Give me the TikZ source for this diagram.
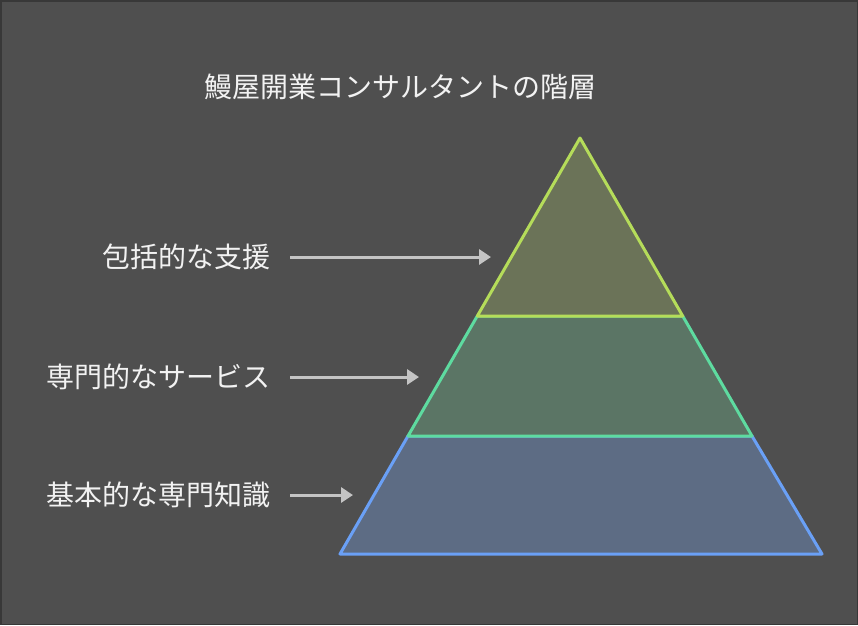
\documentclass[tikz,border=0pt]{standalone}
\usepackage{fontspec}
\newfontfamily\cjk{Noto Sans CJK JP}
\usetikzlibrary{arrows.meta}
\definecolor{bg}{HTML}{4F4F4F}
\definecolor{edge}{HTML}{383838}
\definecolor{txt}{HTML}{F2F2F2}
\definecolor{arr}{HTML}{C4C4C4}
\definecolor{topfill}{HTML}{6B7358}
\definecolor{topline}{HTML}{B5DC5A}
\definecolor{midfill}{HTML}{5B7565}
\definecolor{midline}{HTML}{5EDBA0}
\definecolor{botfill}{HTML}{5D6C84}
\definecolor{botline}{HTML}{6AA0F6}
\tikzset{
  lbl/.style={text=txt,font=\cjk\fontsize{28}{32}\selectfont,anchor=east,inner sep=0pt},
  ttl/.style={text=txt,font=\cjk\fontsize{28}{32}\selectfont,inner sep=0pt},
  pointer/.style={draw=arr,line width=3pt,-{Triangle[length=12pt,width=15pt]}},
  layer/.style={line width=3pt,line join=round}
}
\begin{document}
\begin{tikzpicture}[x=1pt,y=-1pt]
\useasboundingbox (0,0) rectangle (858,625);
\fill[bg] (0,0) rectangle (858,625);
\draw[edge,line width=1.5pt] (0.75,0.75) rectangle (857.25,624.25);
% geometry
\coordinate (apex) at (580,138);
\coordinate (l1) at (477.3,316);
\coordinate (r1) at (682.7,316);
\coordinate (l2) at (408,436);
\coordinate (r2) at (752,436);
\coordinate (bl) at (340,554);
\coordinate (br) at (822,554);
% layers
\draw[layer,fill=botfill,draw=botline] (l2) -- (r2) -- (br) -- (bl) -- cycle;
\draw[layer,fill=midfill,draw=midline] (l1) -- (r1) -- (r2) -- (l2) -- cycle;
\draw[layer,fill=topfill,draw=topline] (apex) -- (r1) -- (l1) -- cycle;
% title
\node[ttl] (title) at (400,87) {鰻屋開業コンサルタントの階層};
% labels
\node[lbl] (t1) at (271,257) {包括的な支援};
\node[lbl] (t2) at (271,377) {専門的なサービス};
\node[lbl] (t3) at (271,495) {基本的な専門知識};
\coordinate (e1) at (491,257);
\coordinate (e2) at (419,377);
\coordinate (e3) at (353,495);
\draw[pointer] (t1.east) ++(19,0) -- (e1);
\draw[pointer] (t2.east) ++(19,0) -- (e2);
\draw[pointer] (t3.east) ++(19,0) -- (e3);
\end{tikzpicture}
\end{document}
